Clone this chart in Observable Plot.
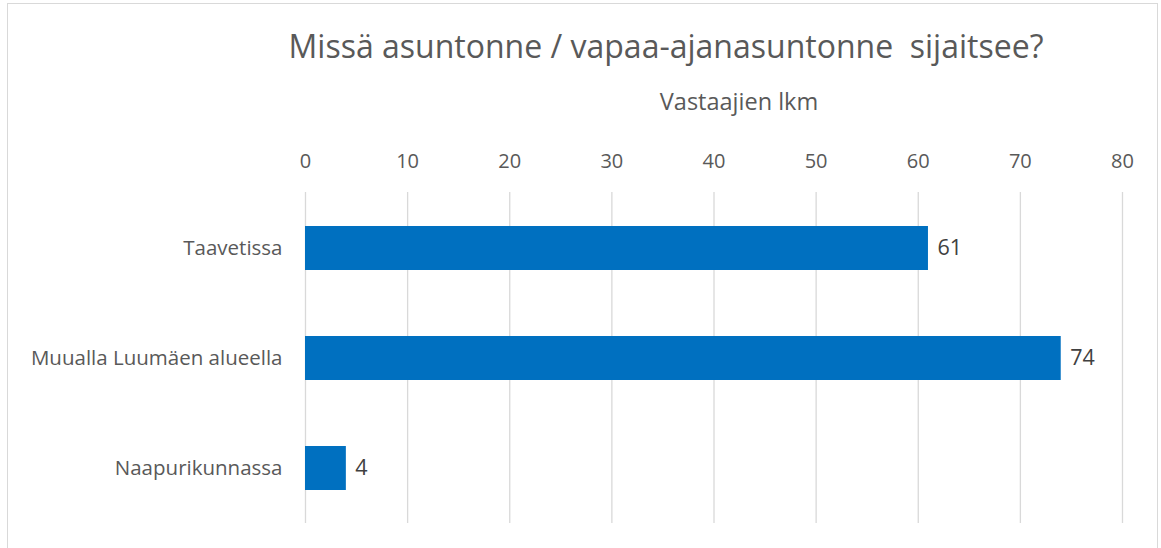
<!DOCTYPE html>
<html><head><meta charset="utf-8">
<script src="https://cdn.jsdelivr.net/npm/d3@7"></script>
<script src="https://cdn.jsdelivr.net/npm/@observablehq/plot@0.6"></script>
<style>
body{margin:0;background:#fff;font-family:"Open Sans",sans-serif;}
#wrap{position:relative;width:1161px;height:548px;overflow:hidden;}
#frame{position:absolute;left:7px;top:3px;width:1151px;height:560px;border:1.5px solid #d9d9d9;box-sizing:border-box;}
#title{position:absolute;left:0;width:1332px;top:24px;text-align:center;font-size:32px;color:#595959;white-space:pre;}
#xlabel{position:absolute;left:0;width:1478px;top:85px;text-align:center;font-size:23.5px;color:#595959;}
#chart{position:absolute;left:0;top:0;}
</style></head>
<body><div id="wrap"><div id="frame"></div>
<div id="title">Missä asuntonne / vapaa-ajanasuntonne  sijaitsee?</div>
<div id="xlabel">Vastaajien lkm</div>
<div id="chart"></div></div>
<script>
const categories = ["Taavetissa", "Muualla Luumäen alueella", "Naapurikunnassa"];
const values = [61, 74, 4];
const xTicks = [0, 10, 20, 30, 40, 50, 60, 70, 80];
const data = categories.map((c, i) => ({category: c, value: values[i]}));

const chart = Plot.plot({
  width: 1161, height: 548,
  marginLeft: 305, marginRight: 39, marginTop: 192, marginBottom: 25,
  style: {fontFamily: "Open Sans, sans-serif", background: "transparent"},
  x: {domain: [0, 80]},
  y: {domain: categories, paddingInner: 0.6, paddingOuter: 0.3},
  marks: [
    Plot.ruleX(xTicks, {stroke: "#d9d9d9", strokeWidth: 1.3}),
    Plot.axisX(xTicks, {anchor: "top", tickSize: 0, tickPadding: 25, fontSize: 20, color: "#595959", label: null}),
    Plot.axisY({tickSize: 0, tickPadding: 23, fontSize: 20.5, color: "#595959", label: null}),
    Plot.barX(data, {x: "value", y: "category", fill: "#0070C0"}),
    Plot.text(data, {x: "value", y: "category", text: d => String(d.value), textAnchor: "start", dx: 9, fontSize: 21.5, fill: "#404040"})
  ]
});
document.getElementById("chart").append(chart);
</script></body></html>
